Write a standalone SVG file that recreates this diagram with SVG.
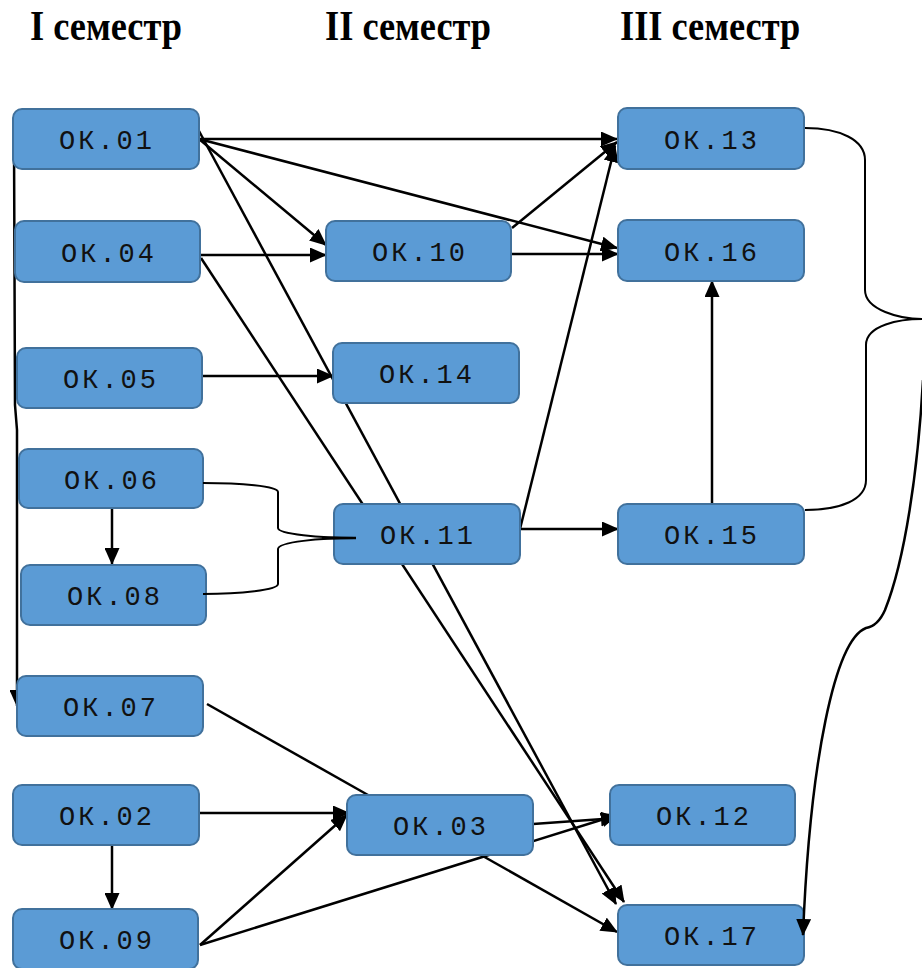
<svg xmlns="http://www.w3.org/2000/svg" width="922" height="968" viewBox="0 0 922 968">
<style>
.box{fill:#5B9BD5;stroke:#41719C;stroke-width:2}
.lbl{font-family:"Liberation Mono","Courier New",monospace;font-size:27px;fill:#111;text-anchor:middle;letter-spacing:3px}
.hdr{font-family:"Liberation Serif","Times New Roman",serif;font-size:36px;font-weight:bold;fill:#000}
.ln{fill:none;stroke:#000;stroke-width:2.5}
.ar{marker-end:url(#ah)}
.br{fill:none;stroke:#000;stroke-width:2}
</style>
<defs>
<marker id="ah" markerUnits="userSpaceOnUse" markerWidth="17" markerHeight="15" refX="16" refY="7.5" orient="auto">
<path d="M0,0 L17,7.5 L0,15 z" fill="#000"/>
</marker>
</defs>
<rect width="922" height="968" fill="#fff"/>
<g id="headers">
<text class="hdr" transform="translate(30,40) scale(1.01,1.15)">I семестр</text>
<text class="hdr" transform="translate(325,40) scale(1.01,1.15)">II семестр</text>
<text class="hdr" transform="translate(620,40) scale(1.01,1.15)">III семестр</text>
</g>
<g id="connectors">
<line class="ln ar" x1="199" y1="139" x2="617" y2="139"/>
<line class="ln ar" x1="199" y1="139" x2="617" y2="248"/>
<line class="ln ar" x1="199" y1="139" x2="326" y2="245"/>
<line class="ln ar" x1="199" y1="131" x2="616" y2="904"/>
<line class="ln ar" x1="201" y1="258" x2="624" y2="902"/>
<line class="ln ar" x1="200" y1="255" x2="326" y2="255"/>
<line class="ln ar" x1="511" y1="254" x2="618" y2="254"/>
<line class="ln ar" x1="512" y1="228" x2="617" y2="142"/>
<line class="ln ar" x1="520" y1="529" x2="615" y2="146"/>
<line class="ln ar" x1="520" y1="529" x2="618" y2="529"/>
<line class="ln ar" x1="712" y1="503" x2="712" y2="281"/>
<line class="ln ar" x1="202" y1="376" x2="333" y2="376"/>
<line class="ln ar" x1="112" y1="508" x2="112" y2="564"/>
<path class="ln ar" d="M14,139 L15,405 Q16,418 17,430 L17,706"/>
<line class="ln ar" x1="112" y1="845" x2="112" y2="909"/>
<line class="ln ar" x1="200" y1="813" x2="349" y2="813"/>
<line class="ln ar" x1="200" y1="945" x2="347" y2="815"/>
<line class="ln ar" x1="200" y1="945" x2="617" y2="815"/>
<line class="ln ar" x1="533" y1="824" x2="617" y2="818"/>
<line class="ln ar" x1="481" y1="855" x2="617" y2="932"/>
<line class="ln" x1="207" y1="704" x2="368" y2="795"/>
</g>
<g id="n01"><rect class="box" x="13" y="109" width="186" height="60" rx="9"/><text class="lbl" x="107" y="149">ОК.01</text></g>
<g id="n04"><rect class="box" x="15" y="221" width="185" height="61" rx="9"/><text class="lbl" x="109" y="262">ОК.04</text></g>
<g id="n05"><rect class="box" x="17" y="348" width="185" height="60" rx="9"/><text class="lbl" x="111" y="388">ОК.05</text></g>
<g id="n06"><rect class="box" x="19" y="449" width="184" height="59" rx="9"/><text class="lbl" x="112" y="489">ОК.06</text></g>
<g id="n08"><rect class="box" x="21" y="565" width="185" height="60" rx="9"/><text class="lbl" x="115" y="605">ОК.08</text></g>
<g id="n07"><rect class="box" x="17" y="676" width="186" height="60" rx="9"/><text class="lbl" x="111" y="716">ОК.07</text></g>
<g id="n02"><rect class="box" x="13" y="785" width="186" height="60" rx="9"/><text class="lbl" x="107" y="825">ОК.02</text></g>
<g id="n09"><rect class="box" x="13" y="909" width="185" height="60" rx="9"/><text class="lbl" x="107" y="949">ОК.09</text></g>
<g id="n10"><rect class="box" x="326" y="221" width="185" height="60" rx="9"/><text class="lbl" x="420" y="261">ОК.10</text></g>
<g id="n14"><rect class="box" x="333" y="343" width="186" height="60" rx="9"/><text class="lbl" x="427" y="383">ОК.14</text></g>
<g id="n11"><rect class="box" x="334" y="504" width="186" height="60" rx="9"/><text class="lbl" x="428" y="544">ОК.11</text></g>
<g id="n03"><rect class="box" x="347" y="795" width="186" height="60" rx="9"/><text class="lbl" x="441" y="835">ОК.03</text></g>
<g id="n13"><rect class="box" x="618" y="108" width="186" height="61" rx="9"/><text class="lbl" x="712" y="149">ОК.13</text></g>
<g id="n16"><rect class="box" x="618" y="220" width="186" height="61" rx="9"/><text class="lbl" x="712" y="261">ОК.16</text></g>
<g id="n15"><rect class="box" x="618" y="504" width="186" height="60" rx="9"/><text class="lbl" x="712" y="544">ОК.15</text></g>
<g id="n12"><rect class="box" x="610" y="785" width="185" height="60" rx="9"/><text class="lbl" x="704" y="825">ОК.12</text></g>
<g id="n17"><rect class="box" x="618" y="905" width="186" height="60" rx="9"/><text class="lbl" x="712" y="945">ОК.17</text></g>
<g id="braces">
<path class="br" d="M203,483 C240,483 278,486 278,492 L278,528 C278,534 320,538 355,538 C320,538 278,542 278,549 L278,584 C278,590 240,594 203,594"/>
<line class="ln" x1="322" y1="538" x2="356" y2="538"/>
<path class="br" d="M805,128 C840,128 865,140 865,160 L865,290 C865,310 900,319 922,319 C900,319 866,325 866,345 L866,480 C866,500 840,510 805,510"/>
<path class="ln ar" d="M923,380 C918,470 905,560 885,610 Q878,626 866,628 C835,640 810,760 803,935"/>
</g>
</svg>
